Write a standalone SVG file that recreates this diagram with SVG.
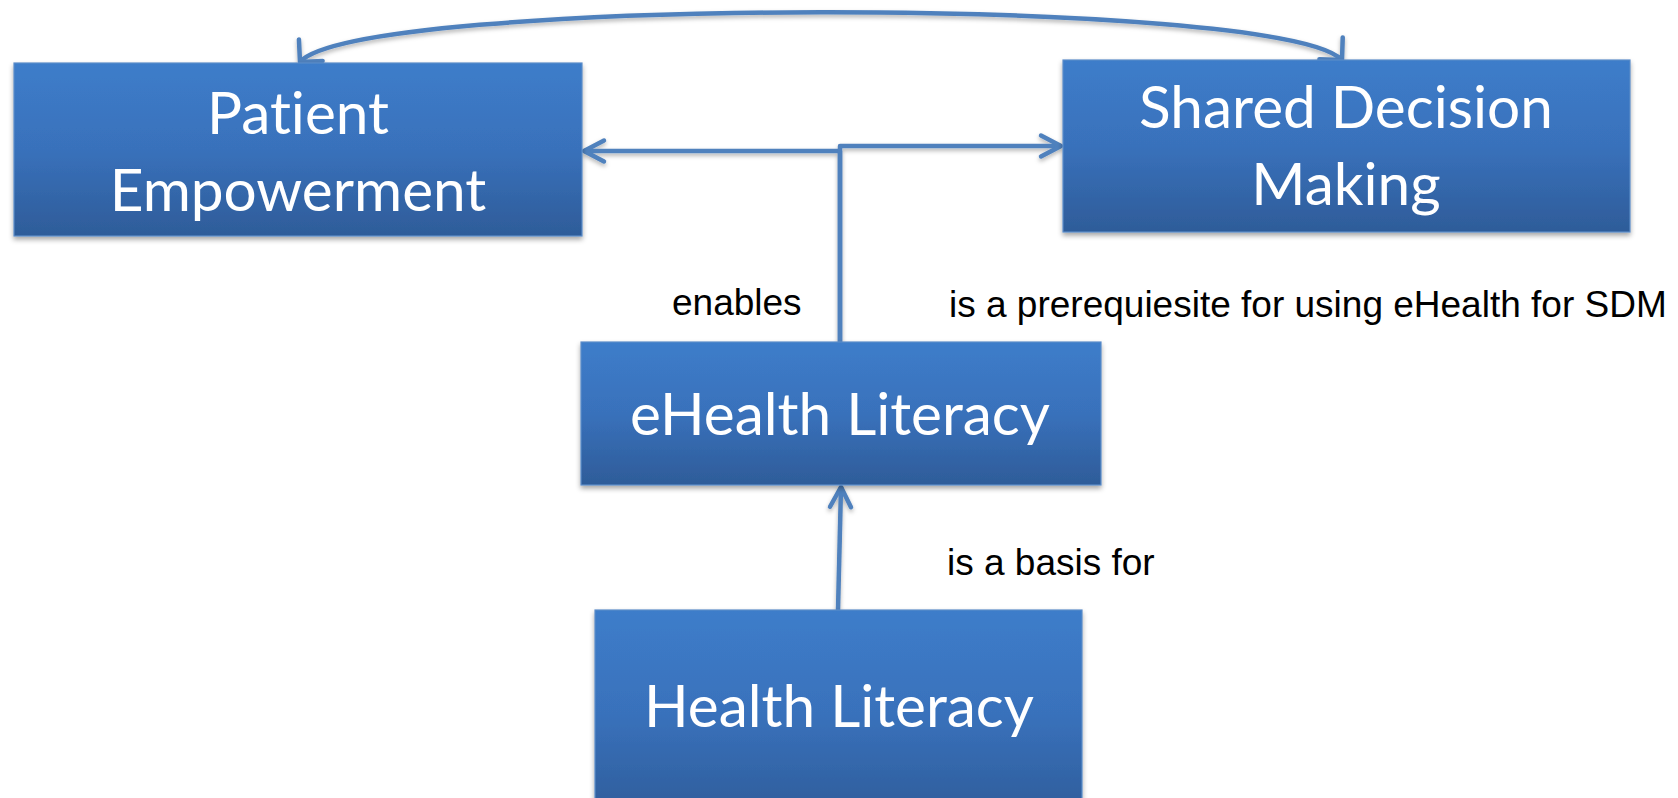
<svg xmlns="http://www.w3.org/2000/svg" width="1678" height="798" viewBox="0 0 1678 798">
  <style>
    .box { fill: url(#boxFill); stroke: #5B8CC9; stroke-width: 1.2; filter: url(#boxShadow); }
    .box-text { font-family: Lato, "Open Sans", sans-serif; font-size: 58.5px; fill: #FFFFFF; text-anchor: middle; font-variant-ligatures: none; font-feature-settings: "liga" 0, "dlig" 0; }
    .label { font-family: "Liberation Sans", Arial, sans-serif; font-size: 37px; fill: #000000; }
    .conn { fill: none; stroke: #4F81BD; stroke-width: 4.5; stroke-linejoin: round; }
  </style>
  <defs>
    <linearGradient id="boxFill" x1="0" y1="0" x2="0" y2="1">
      <stop offset="0" stop-color="#3D7DCA"/>
      <stop offset="0.5" stop-color="#3971BB"/>
      <stop offset="1" stop-color="#2E5C99"/>
    </linearGradient>
    <filter id="boxShadow" x="-5%" y="-5%" width="110%" height="115%">
      <feDropShadow dx="0" dy="3" stdDeviation="2.5" flood-color="#000000" flood-opacity="0.35"/>
    </filter>
    <filter id="lineShadow" x="-5%" y="-5%" width="110%" height="120%">
      <feDropShadow dx="0" dy="2.5" stdDeviation="2" flood-color="#000000" flood-opacity="0.3"/>
    </filter>
    <!-- open chevron arrowhead for straight connectors -->
    <marker id="arrow" markerUnits="userSpaceOnUse" markerWidth="40" markerHeight="40" viewBox="-30 -20 40 40" refX="0" refY="0" orient="auto-start-reverse" overflow="visible">
      <path d="M -20 -10.5 L 0 0 L -20 10.5" fill="none" stroke="#4F81BD" stroke-width="4.5" stroke-linecap="round" stroke-linejoin="round"/>
    </marker>
    <!-- wider chevron for the curved connector -->
    <marker id="arrowWide" markerUnits="userSpaceOnUse" markerWidth="40" markerHeight="40" viewBox="-30 -20 40 40" refX="0" refY="0" orient="auto-start-reverse" overflow="visible">
      <path d="M -16 -16 L 0 0 L -16 16" fill="none" stroke="#4F81BD" stroke-width="4.5" stroke-linecap="round" stroke-linejoin="round"/>
    </marker>
  </defs>

  <g id="connectors" filter="url(#lineShadow)">
    <path class="conn" d="M 300 62 C 360 -4, 1282 -4, 1342 60" marker-start="url(#arrowWide)" marker-end="url(#arrowWide)"/>
    <path class="conn" d="M 840 342 L 840 151 L 584 151" marker-end="url(#arrow)"/>
    <path class="conn" d="M 840 342 L 840 146 L 1061 146" marker-end="url(#arrow)"/>
    <path class="conn" d="M 838 610 L 841 487" marker-end="url(#arrow)"/>
  </g>

  <g id="node-patient-empowerment">
    <rect class="box" x="14" y="63" width="568" height="173"/>
    <text class="box-text" x="298" y="134">Patient</text>
    <text class="box-text" x="298" y="211">Empowerment</text>
  </g>

  <g id="node-shared-decision-making">
    <rect class="box" x="1063" y="60" width="567" height="172"/>
    <text class="box-text" x="1346" y="128">Shared Decision</text>
    <text class="box-text" x="1346" y="205">Making</text>
  </g>

  <g id="node-ehealth-literacy">
    <rect class="box" x="581" y="342" width="520" height="143"/>
    <text class="box-text" x="840" y="435">eHealth Literacy</text>
  </g>

  <g id="node-health-literacy">
    <rect class="box" x="595" y="610" width="487" height="210"/>
    <text class="box-text" x="839" y="727">Health Literacy</text>
  </g>

  <g id="labels">
    <text class="label" x="672" y="315">enables</text>
    <text class="label" x="949" y="317">is a prerequiesite for using eHealth for SDM</text>
    <text class="label" x="947" y="575">is a basis for</text>
  </g>
</svg>
